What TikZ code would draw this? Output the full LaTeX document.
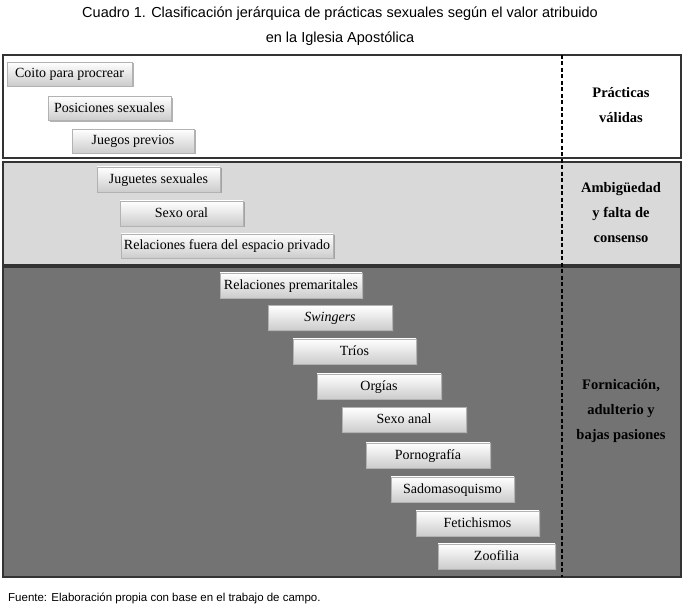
\documentclass[tikz,border=0pt]{standalone}
\usepackage{fontspec}
\setmainfont{Liberation Serif}
\newfontfamily\arialf{Liberation Sans}
\usetikzlibrary{shadows}
\definecolor{bandlight}{RGB}{217,217,217}
\definecolor{banddark}{RGB}{115,115,115}
\begin{document}
\begin{tikzpicture}[x=1pt,y=-1pt,
  band/.style={draw=black!80, line width=1.3pt},
  pbox/.style={rectangle, top color=white, bottom color=black!20, draw=black!30, line width=0.4pt,
    drop shadow={shadow xshift=1.5pt, shadow yshift=-1.5pt, fill=black!50, opacity=0.6},
    minimum width=123pt, minimum height=24pt, inner sep=0pt, text height=9.5pt, text depth=2pt,
    font=\fontsize{14}{16}\selectfont},
  lab/.style={align=center, inner sep=0pt, font=\bfseries\fontsize{14.5}{25}\selectfont},
  ttl/.style={align=center, inner sep=0pt, font=\arialf\fontsize{14.5}{25}\selectfont},
  divider/.style={black, line width=1.4pt, dash pattern=on 4pt off 2.5pt}]
\fill[white] (0,0) rectangle (689,609);
\useasboundingbox (0,0) rectangle (689,609);

% title
\node[ttl] (title) at (340,26) {Cuadro 1. Clasificación jerárquica de prácticas sexuales según el valor atribuido\\en la Iglesia Apostólica};

% bands
\filldraw[band, fill=white] (3,55) rectangle (681,158);
\filldraw[band, fill=bandlight] (3,162) rectangle (681,265);
\filldraw[band, fill=banddark] (3,267) rectangle (681,577);
\coordinate (dtop) at (562,55);
\coordinate (dbot) at (562,577);
\draw[divider] (dtop) -- (dbot);

% valid practices
\node[pbox, minimum width=125pt] (c1) at (69.5,74) {Coito para procrear};
\node[pbox] (c2) at (109.5,108.5) {Posiciones sexuales};
\node[pbox, minimum width=122pt] (c3) at (133,141) {Juegos previos};

% ambiguity
\node[pbox, minimum height=25pt] (a1) at (158.5,179.5) {Juguetes sexuales};
\node[pbox, minimum height=25pt] (a2) at (181.5,213.5) {Sexo oral};
\node[pbox, minimum width=212pt] (a3) at (227,246) {Relaciones fuera del espacio privado};

% fornication
\node[pbox, minimum width=142pt, minimum height=25pt] (f1) at (291,285.5) {Relaciones premaritales};
\node[pbox, minimum width=124pt, minimum height=25pt] (f2) at (330,318) {\itshape Swingers};
\node[pbox, minimum height=25pt] (f3) at (354.5,351.5) {Tríos};
\node[pbox, minimum width=124pt, minimum height=25pt] (f4) at (379,386.5) {Orgías};
\node[pbox, minimum width=124pt, minimum height=25pt] (f5) at (404,420) {Sexo anal};
\node[pbox, minimum width=124pt, minimum height=25pt] (f6) at (428,455.5) {Pornografía};
\node[pbox, minimum height=25pt] (f7) at (452.5,489.5) {Sadomasoquismo};
\node[pbox, minimum height=25pt] (f8) at (477.5,523.5) {Fetichismos};
\node[pbox, minimum width=117pt, minimum height=25pt] (f9) at (496.5,556.5) {Zoofilia};

% labels
\node[lab] (l1) at (621,105) {Prácticas\\válidas};
\node[lab] (l2) at (621,213) {Ambigüedad\\y falta de\\consenso};
\node[lab] (l3) at (621,411) {Fornicación,\\adulterio y\\bajas pasiones};

% footer
\node[anchor=west, inner sep=0pt, font=\arialf\fontsize{11.5}{13}\selectfont] (src) at (8,598) {Fuente: Elaboración propia con base en el trabajo de campo.};
\end{tikzpicture}
\end{document}
